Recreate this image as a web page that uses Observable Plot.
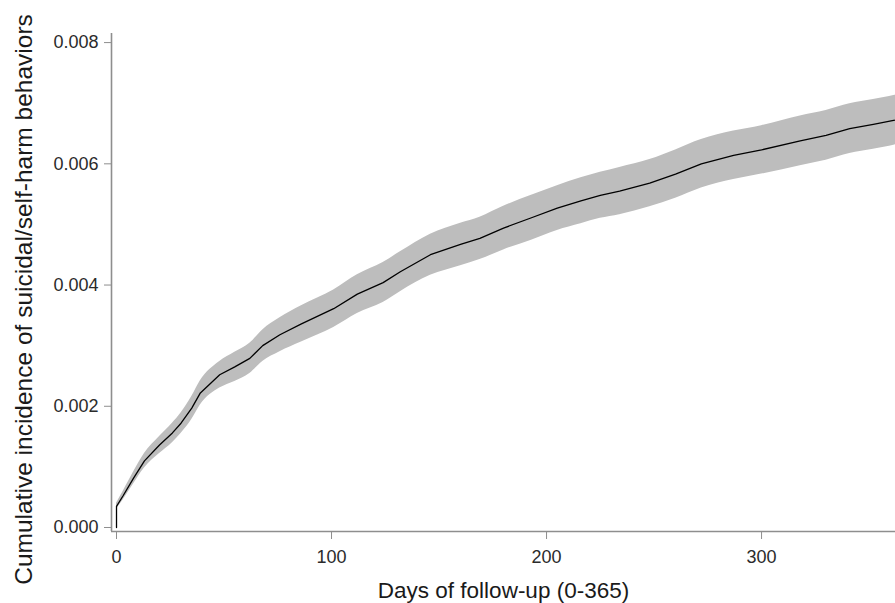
<!DOCTYPE html>
<html>
<head>
<meta charset="utf-8">
<script src="https://cdn.jsdelivr.net/npm/d3@7"></script>
<script src="https://cdn.jsdelivr.net/npm/@observablehq/plot@0.6"></script>
<style>
  html, body { margin: 0; padding: 0; background: #fff; }
  #chart { width: 895px; height: 603px; }
</style>
</head>
<body>
<div id="chart"></div>
<script>
const days = [0, 3, 8, 13, 20, 26, 30, 35, 39, 48, 55, 62, 68, 76, 86, 101, 112, 124, 132, 146, 160, 169, 180, 193, 205, 216, 225, 234, 248, 260, 272, 287, 300, 318, 330, 341, 352, 362, 365];
// Cumulative incidence estimate
const estimate = [0.00035, 0.00052, 0.00082, 0.0011, 0.00136, 0.00156, 0.00172, 0.00197, 0.00222, 0.00252, 0.00265, 0.00279, 0.003, 0.00318, 0.00336, 0.00361, 0.00385, 0.00404, 0.00422, 0.0045, 0.00467, 0.00477, 0.00494, 0.00511, 0.00527, 0.00539, 0.00548, 0.00555, 0.00568, 0.00583, 0.006, 0.00614, 0.00623, 0.00638, 0.00647, 0.00658, 0.00665, 0.00672, 0.00675];
// Lower / upper confidence limits
const lower = [0.0003, 0.00045, 0.00072, 0.00098, 0.00122, 0.0014, 0.00155, 0.00178, 0.00202, 0.0023, 0.00241, 0.00254, 0.00274, 0.0029, 0.00306, 0.0033, 0.00353, 0.00371, 0.00389, 0.00416, 0.00432, 0.00442, 0.00458, 0.00474, 0.0049, 0.00501, 0.0051, 0.00516, 0.00529, 0.00543, 0.0056, 0.00574, 0.00583, 0.00597, 0.00606, 0.00617, 0.00624, 0.00631, 0.00634];
const upper = [0.0004, 0.00059, 0.00092, 0.00122, 0.0015, 0.00172, 0.00189, 0.00216, 0.00242, 0.00274, 0.00289, 0.00304, 0.00326, 0.00346, 0.00366, 0.00392, 0.00417, 0.00437, 0.00455, 0.00484, 0.00502, 0.00512, 0.0053, 0.00548, 0.00564, 0.00577, 0.00586, 0.00594, 0.00607, 0.00623, 0.0064, 0.00654, 0.00663, 0.00679, 0.00688, 0.00699, 0.00706, 0.00713, 0.00716];
// Value at the very start of follow-up (before the first step)
const startDay = 0;
const startValue = 0;

const xTicks = [0, 100, 200, 300];
const yTicks = [0, 0.002, 0.004, 0.006, 0.008];
const xTitle = "Days of follow-up (0-365)";
const yTitle = "Cumulative incidence of suicidal/self-harm behaviors";

const band = days.map((d, i) => ({day: d, lo: lower[i], hi: upper[i]}));
const curve = [{day: startDay, v: startValue}].concat(days.map((d, i) => ({day: d, v: estimate[i]})));

const xDomain = [-2.33, 362.3];
const yDomain = [-0.000066, 0.00815];
const axisColor = "#8e8e8e";
const textColor = "#2b2b2b";

const chart = Plot.plot({
  width: 895,
  height: 603,
  marginLeft: 111,
  marginRight: 0,
  marginTop: 33,
  marginBottom: 72,
  style: {fontFamily: "'Liberation Sans', Arial, sans-serif", fontSize: "18px", background: "#fff", overflow: "visible"},
  x: {domain: xDomain},
  y: {domain: yDomain},
  marks: [
    Plot.areaY(band, {x: "day", y1: "lo", y2: "hi", fill: "#bdbdbd", curve: "monotone-x", clip: true}),
    Plot.line(curve, {x: "day", y: "v", stroke: "#000", strokeWidth: 1.3, clip: true}),
    Plot.ruleX([xDomain[0]], {stroke: axisColor, strokeWidth: 1.6}),
    Plot.ruleY([yDomain[0]], {stroke: axisColor, strokeWidth: 1.6}),
    Plot.axisX({ticks: xTicks, tickSize: 8, tickPadding: 11, fontSize: 18, stroke: axisColor, fill: textColor, label: null, tickFormat: d3.format("d")}),
    Plot.axisY({ticks: yTicks, tickSize: 7, tickPadding: 6, fontSize: 18, stroke: axisColor, fill: textColor, label: null, tickFormat: d3.format(".3f")}),
    Plot.text([xTitle], {frameAnchor: "bottom", text: d => d, dy: 59, fontSize: 22.5, fill: "#1a1a1a", textAnchor: "middle", lineAnchor: "middle"}),
    Plot.text([yTitle], {frameAnchor: "left", text: d => d, rotate: -90, dx: -87, dy: 17, fontSize: 24.5, fill: "#1a1a1a", textAnchor: "middle", lineAnchor: "middle"})
  ]
});
document.getElementById("chart").appendChild(chart);
</script>
</body>
</html>
